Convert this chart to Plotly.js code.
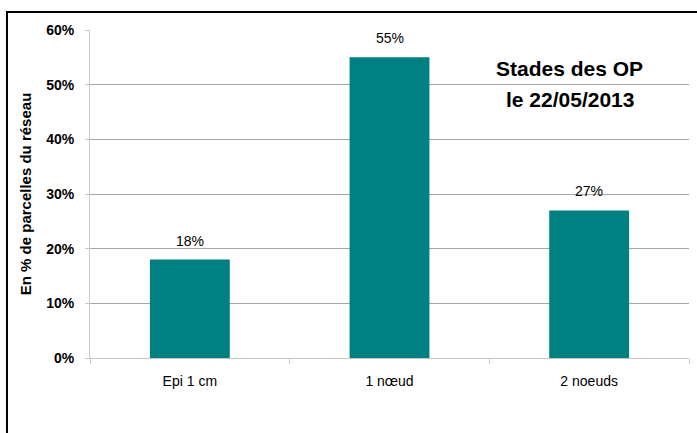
<!DOCTYPE html>
<html>
<head>
<meta charset="utf-8">
<script src="https://cdn.plot.ly/plotly-3.0.1.min.js"></script>
<style>html,body{margin:0;padding:0;background:#fff;}#chart{width:697px;height:433px;}</style>
</head>
<body>
<div id="chart"></div>
<script>
const categories = ["Epi 1 cm", "1 nœud", "2 noeuds"];
const values = [0.18, 0.55, 0.27];
const valueLabels = ["18%", "55%", "27%"];
const yTickVals = [0, 0.1, 0.2, 0.3, 0.4, 0.5, 0.6];
const yTickText = ["0%", "10%", "20%", "30%", "40%", "50%", "60%"];
const titleLines = ["Stades des OP", "le 22/05/2013"];

const font = "Liberation Sans, Arial, sans-serif";

const trace = {
  type: "bar",
  x: categories,
  y: values,
  marker: {color: "#008080"},
  hoverinfo: "none"
};

const labelAnnotations = categories.map((c, i) => ({
  xref: "x", yref: "y", x: c, y: values[i], text: valueLabels[i],
  showarrow: false, xanchor: "center", yanchor: "bottom", yshift: 9,
  font: {family: font, size: 14, color: "#000"}
}));

const layout = {
  width: 697, height: 433,
  margin: {l: 90, r: 8, t: 30, b: 75},
  paper_bgcolor: "#fff", plot_bgcolor: "#fff",
  bargap: 0.6,
  showlegend: false,
  xaxis: {
    showline: true, linecolor: "#c8c8c8", linewidth: 1,
    ticks: "outside", tickson: "boundaries", ticklen: 5, tickcolor: "#c8c8c8",
    ticklabelstandoff: 10,
    tickfont: {family: font, size: 14, color: "#000"},
    showgrid: false
  },
  yaxis: {
    range: [0, 0.6],
    tickvals: yTickVals, ticktext: yTickText,
    showline: true, linecolor: "#c8c8c8", linewidth: 1,
    ticks: "outside", ticklen: 4, tickcolor: "#c8c8c8",
    ticklabelstandoff: 8,
    tickfont: {family: font, size: 14, color: "#000", weight: "bold"},
    showgrid: true, gridcolor: "#a6a6a6", gridwidth: 1,
    zeroline: false,
    title: {text: "En % de parcelles du réseau", font: {family: font, size: 15, color: "#000", weight: "bold"}, standoff: 10}
  },
  annotations: [
    {xref: "paper", yref: "paper", x: 0.801, y: 0.884, xanchor: "center", yanchor: "middle", text: titleLines[0], showarrow: false,
     font: {family: font, size: 21, color: "#000", weight: "bold"}},
    {xref: "paper", yref: "paper", x: 0.801, y: 0.787, xanchor: "center", yanchor: "middle", text: titleLines[1], showarrow: false,
     font: {family: font, size: 21, color: "#000", weight: "bold"}}
  ].concat(labelAnnotations),
  shapes: [
    {type: "rect", xref: "paper", yref: "paper", x0: -0.1386, y0: -0.4, x1: 1.05, y1: 1.0549,
     line: {color: "#000", width: 2}, fillcolor: "rgba(0,0,0,0)", layer: "above"}
  ]
};

Plotly.newPlot("chart", [trace], layout, {displayModeBar: false, staticPlot: true});
</script>
</body>
</html>
